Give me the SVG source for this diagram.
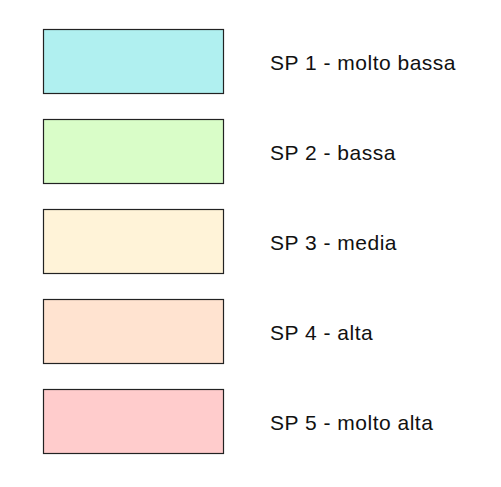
<svg xmlns="http://www.w3.org/2000/svg" width="501" height="487" viewBox="0 0 501 487">
<style>
.box{stroke:#222;stroke-width:1.2}
.lbl{font-family:"Liberation Sans",Arial,sans-serif;font-size:21px;letter-spacing:0.5px;fill:#111}
</style>
<rect width="501" height="487" fill="#fff"/>
<g id="sp1"><rect class="box" x="43.5" y="29.5" width="180" height="64" fill="#b0f0f0"/><text class="lbl" x="270" y="69.5">SP 1 - molto bassa</text></g>
<g id="sp2"><rect class="box" x="43.5" y="119.5" width="180" height="64" fill="#d9fdc8"/><text class="lbl" x="270" y="159.5">SP 2 - bassa</text></g>
<g id="sp3"><rect class="box" x="43.5" y="209.5" width="180" height="64" fill="#fff3d8"/><text class="lbl" x="270" y="249.5">SP 3 - media</text></g>
<g id="sp4"><rect class="box" x="43.5" y="299.5" width="180" height="64" fill="#ffe3d0"/><text class="lbl" x="270" y="339.5">SP 4 - alta</text></g>
<g id="sp5"><rect class="box" x="43.5" y="389.5" width="180" height="64" fill="#ffcccc"/><text class="lbl" x="270" y="429.5">SP 5 - molto alta</text></g>
<g id="connectors"/>
</svg>
